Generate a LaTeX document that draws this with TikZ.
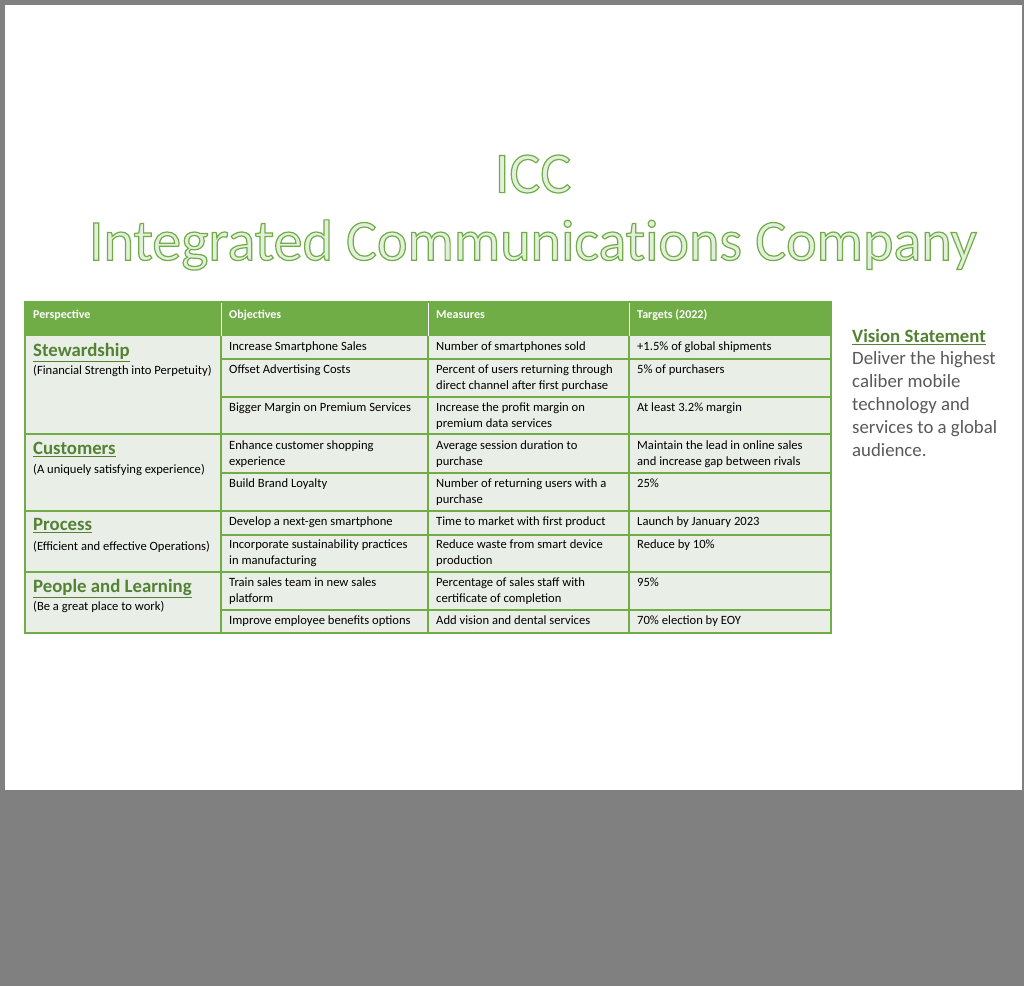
\documentclass[tikz,border=0pt]{standalone}
\usepackage{fontspec}
\setmainfont{Carlito}
\definecolor{hdr}{HTML}{70AD47}
\definecolor{cellbg}{HTML}{E9EEE7}
\definecolor{dgreen}{HTML}{548235}
\definecolor{vtext}{HTML}{595959}
\definecolor{bggray}{HTML}{808080}
\newcommand{\outlined}[1]{\special{pdf:literal direct 2 Tr 1.2 w 0.44 0.68 0.28 RG 0.886 0.937 0.855 rg}#1\special{pdf:literal direct 0 Tr}}
\newcommand{\ul}[1]{\underline{#1}}
\begin{document}
\begin{tikzpicture}[x=1pt,y=-1pt,
  cell/.style={anchor=north west,inner sep=0pt,align=left,font=\fontsize{12.6}{15.2}\selectfont,text=black},
  head/.style={anchor=west,inner sep=0pt,font=\fontsize{12}{13}\bfseries\selectfont,text=white},
  ptitle/.style={anchor=north west,inner sep=0pt,font=\fontsize{18.8}{20}\bfseries\selectfont,text=dgreen},
  psub/.style={anchor=north west,inner sep=0pt,font=\fontsize{12.6}{14}\selectfont,text=black},
  grid/.style={draw=hdr,line width=1.3pt}]
\fill[bggray] (0,0) rectangle (1024,986);
\fill[white] (5,5) rectangle (1022,790);
\useasboundingbox (0,0) rectangle (1024,986);
% title
\node (t1) at (533,174) [inner sep=0pt,font=\fontsize{58}{58}\selectfont] {\outlined{ICC}};
\node (t2) at (533,245) [inner sep=0pt,font=\fontsize{58}{58}\selectfont] {\outlined{Integrated Communicat\kern0pt ions Company}};
% table
\fill[cellbg] (25,336) rectangle (831,633);
\fill[hdr] (25,302) rectangle (831,336);
\draw[white,line width=1pt] (221,302) -- (221,336) (428,302) -- (428,336) (629,302) -- (629,336);
\draw[grid] (25,302) rectangle (831,633);
\draw[grid] (221,336) -- (221,633) (428,336) -- (428,633) (629,336) -- (629,633);
\foreach \y in {434,511,572} \draw[grid] (25,\y) -- (831,\y);
\foreach \y in {359,397,473,535,610} \draw[grid] (221,\y) -- (831,\y);
\node[head] (h1) at (33,315) {Perspective};
\node[head] (h2) at (229,315) {Objectives};
\node[head] (h3) at (436,315) {Measures};
\node[head] (h4) at (637,315) {Targets (2022)};
% perspectives
\node[ptitle] (p1) at (33,343) {\ul{Stewardship}};
\node[psub] (p1s) at (33,365) {(Financial Strength into Perpetuity)};
\node[ptitle] (p2) at (33,442) {\ul{Customers}};
\node[psub] (p2s) at (33,464) {(A uniquely satisfying experience)};
\node[ptitle] (p3) at (33,518) {\ul{Process}};
\node[psub] (p3s) at (33,541) {(Efficient and effective Operations)};
\node[ptitle] (p4) at (33,579) {\ul{People and Learning}};
\node[psub] (p4s) at (33,601) {(Be a great place to work)};
% rows
\node[cell] (o1) at (229,342) {Increase Smartphone Sales};
\node[cell] (m1) at (436,342) {Number of smartphones sold};
\node[cell] (g1) at (637,342) {+1.5\% of global shipments};
\node[cell] (o2) at (229,365) {Offset Advertising Costs};
\node[cell] (m2) at (436,365) {Percent of users returning through\\direct channel after first purchase};
\node[cell] (g2) at (637,365) {5\% of purchasers};
\node[cell] (o3) at (229,403) {Bigger Margin on Premium Services};
\node[cell] (m3) at (436,403) {Increase the profit margin on\\premium data services};
\node[cell] (g3) at (637,403) {At least 3.2\% margin};
\node[cell] (o4) at (229,441) {Enhance customer shopping\\experience};
\node[cell] (m4) at (436,441) {Average session duration to\\purchase};
\node[cell] (g4) at (637,441) {Maintain the lead in online sales\\and increase gap between rivals};
\node[cell] (o5) at (229,479) {Build Brand Loyalty};
\node[cell] (m5) at (436,479) {Number of returning users with a\\purchase};
\node[cell] (g5) at (637,479) {25\%};
\node[cell] (o6) at (229,517) {Develop a next-gen smartphone};
\node[cell] (m6) at (436,517) {Time to market with first product};
\node[cell] (g6) at (637,517) {Launch by January 2023};
\node[cell] (o7) at (229,540) {Incorporate sustainability practices\\in manufacturing};
\node[cell] (m7) at (436,540) {Reduce waste from smart device\\production};
\node[cell] (g7) at (637,540) {Reduce by 10\%};
\node[cell] (o8) at (229,578) {Train sales team in new sales\\platform};
\node[cell] (m8) at (436,578) {Percentage of sales staff with\\certificate of completion};
\node[cell] (g8) at (637,578) {95\%};
\node[cell] (o9) at (229,616) {Improve employee benefits options};
\node[cell] (m9) at (436,616) {Add vision and dental services};
\node[cell] (g9) at (637,616) {70\% election by EOY};
% vision
\node[anchor=north west,inner sep=0pt,font=\fontsize{18.8}{20}\bfseries\selectfont,text=dgreen] (v1) at (852,329) {\ul{Vision Statement}};
\node[anchor=north west,inner sep=0pt,align=left,font=\fontsize{18.8}{23}\selectfont,text=vtext] (v2) at (852,351) {Deliver the highest\\caliber mobile\\technology and\\services to a global\\audience.};
\end{tikzpicture}
\end{document}
